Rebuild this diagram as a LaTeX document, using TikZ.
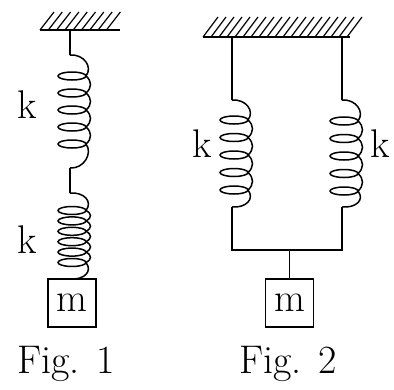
\documentclass[tikz,border=0pt]{standalone}
\newcommand\drawcoil[6]{% #1 wire x, #2 hook start y, #3 first loop y, #4 pitch, #5 loops, #6 hook end y
  \pgfmathsetmacro\coillast{#3+(#5-1)*#4}
  \draw[springline] (#1,#2) .. controls (#1+14,#2-1) and (#1+23,#3-9) .. (#1+16,#3);
  \foreach \k in {1,...,#5}{%
    \pgfmathsetmacro\coilyy{#3+(\k-1)*#4}
    \draw[springline] (#1+2,\coilyy) ellipse [x radius=14pt, y radius=4pt];
  }
  \pgfmathtruncatemacro\coilm{#5-1}
  \foreach \k in {1,...,\coilm}{%
    \pgfmathsetmacro\coilyy{#3+(\k-1)*#4}
    \draw[springline] (#1+16,\coilyy) .. controls (#1+22,\coilyy+0.3*#4) and (#1+22,\coilyy+0.7*#4) .. (#1+16,\coilyy+#4);
  }
  \draw[springline] (#1+16,\coillast) .. controls (#1+23,\coillast+9) and (#1+14,#6+1) .. (#1,#6);
}
\begin{document}
\begin{tikzpicture}[x=1pt,y=-1pt,
  wire/.style={line width=1.6pt},
  springline/.style={line width=1.5pt},
  hatchline/.style={line width=1.2pt},
  massbox/.style={draw,line width=1.4pt,minimum width=48pt,minimum height=48pt,inner sep=0pt,font=\fontsize{40}{44}\selectfont},
  lbl/.style={anchor=base,inner sep=0pt,font=\fontsize{40}{44}\selectfont}]
\useasboundingbox (0,0) rectangle (394,389);
% ---------- Fig. 1 ----------
\draw[wire] (40,30) -- (120,30);
\foreach \x in {40,48.3,...,107} \draw[hatchline] (\x,30) -- ++(14,-18);
\coordinate (a0) at (70,30);
\coordinate (a1) at (70,55);
\coordinate (a2) at (70,168);
\coordinate (a3) at (70,193);
\draw[wire] (a0) -- (a1);
\drawcoil{70}{55}{76}{17}{5}{168}
\draw[wire] (a2) -- (a3);
\node[massbox] (m1) at (72,303) {m};
\coordinate (a4) at (70,279);
\drawcoil{70}{193}{210.5}{10.4}{6}{279}
\node[lbl] (k1) at (27,118) {k};
\node[lbl] (k2) at (27,253) {k};
\node[lbl] (f1) at (66,373) {Fig. 1};
% ---------- Fig. 2 ----------
\draw[wire] (203,37) -- (350,37);
\foreach \x in {203,211,...,347} \draw[hatchline] (\x,37) -- ++(15,-20);
\coordinate (b0) at (232,37);
\coordinate (b1) at (232,100);
\coordinate (b2) at (232,207);
\coordinate (b3) at (232,250);
\coordinate (c0) at (342,37);
\coordinate (c1) at (342,100);
\coordinate (c2) at (342,207);
\coordinate (c3) at (342,250);
\draw[wire] (b0) -- (b1);
\draw[wire] (c0) -- (c1);
\drawcoil{232}{100}{120}{17.5}{5}{207}
\drawcoil{342}{100}{121}{17.5}{5}{207}
\draw[wire] (b2) -- (b3) -- (c3) -- (c2);
\node[massbox] (m2) at (289.5,303) {m};
\coordinate (d0) at (289.5,250);
\draw[wire] (d0) -- (m2.north);
\node[lbl] (k3) at (202,157) {k};
\node[lbl] (k4) at (380,157) {k};
\node[lbl] (f2) at (288,373) {Fig. 2};
\end{tikzpicture}
\end{document}
